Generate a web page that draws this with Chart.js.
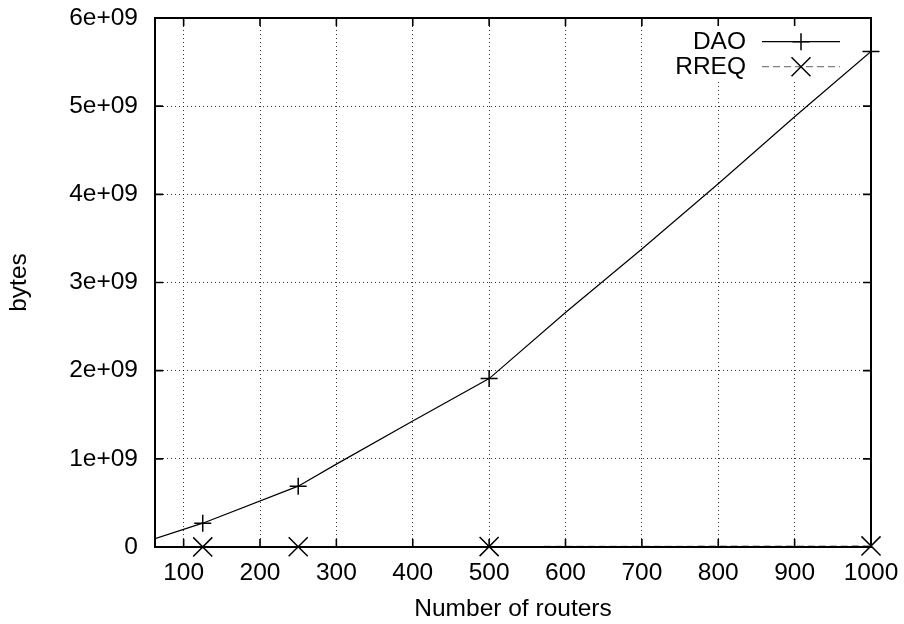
<!DOCTYPE html>
<html>
<head>
<meta charset="utf-8">
<script src="https://cdn.jsdelivr.net/npm/chart.js@4.4.1/dist/chart.umd.min.js"></script>
<style>
  html, body { margin: 0; padding: 0; background: #fff; }
  #chart { display: block; }
</style>
</head>
<body>
<canvas id="chart" width="904" height="624"></canvas>
<script>
// Axis ranges and ticks
const xMin = 62.5;
const xMax = 1000;
const xTicks = [100, 200, 300, 400, 500, 600, 700, 800, 900, 1000];
const yTicks = [0, 1e9, 2e9, 3e9, 4e9, 5e9, 6e9];
const yTickLabels = ['0', '1e+09', '2e+09', '3e+09', '4e+09', '5e+09', '6e+09'];

// measured points
const routers = [125, 250, 500, 1000];
const daoBytes = [0.27e9, 0.69e9, 1.91e9, 5.62e9];
const rreqBytes = [1e6, 2.5e6, 5e6, 1.2e7];

// DAO line (curve spans the whole x range)
const daoCurveX = [62.5, 125, 250, 300, 400, 500, 600, 700, 800, 900, 1000];
const daoCurveY = [0.095e9, 0.27e9, 0.69e9, 0.94e9, 1.43e9, 1.91e9, 2.66e9, 3.38e9, 4.12e9, 4.88e9, 5.62e9];

const legendNames = ['DAO', 'RREQ'];

const FONT = 'Liberation Sans, Arial, Helvetica, sans-serif';
const FSIZE = 24.5;

const toXY = (xs, ys) => xs.map((x, i) => ({ x, y: ys[i] }));

// no automatic room for overflowing tick labels, layout padding decides
function fixBox(s, key, val) {
  s[key] = val;
  s.paddingLeft = 0;
  s.paddingRight = 0;
  s.paddingTop = 0;
  s.paddingBottom = 0;
}

// white key box, hides grid under the legend
const keyBox = {
  id: 'keyBox',
  beforeDatasetsDraw(chart) {
    const { ctx, chartArea: a } = chart;
    ctx.save();
    ctx.fillStyle = '#fff';
    ctx.fillRect(665, a.top + 1, a.right - 665 - 1, 62);
    ctx.restore();
  },
};

// gnuplot style border with inward ticks on all four sides + key
const frame = {
  id: 'frame',
  afterDatasetsDraw(chart) {
    const { ctx, chartArea: a, scales } = chart;
    const tl = 8;
    ctx.save();
    ctx.strokeStyle = '#000';
    ctx.lineWidth = 1.6;
    ctx.beginPath();
    xTicks.forEach((v) => {
      const px = scales.x.getPixelForValue(v);
      ctx.moveTo(px, a.bottom); ctx.lineTo(px, a.bottom - tl);
      ctx.moveTo(px, a.top); ctx.lineTo(px, a.top + tl);
    });
    yTicks.forEach((v) => {
      const py = scales.y.getPixelForValue(v);
      ctx.moveTo(a.left, py); ctx.lineTo(a.left + tl, py);
      ctx.moveTo(a.right, py); ctx.lineTo(a.right - tl, py);
    });
    ctx.stroke();
    ctx.lineWidth = 2;
    ctx.strokeRect(a.left, a.top, a.right - a.left, a.bottom - a.top);

    // key
    const rows = [41.7, 66.7];
    const x0 = 762, x1 = 840, xm = 801;
    ctx.font = `${FSIZE}px ${FONT}`;
    ctx.fillStyle = '#000';
    ctx.textAlign = 'right';
    ctx.textBaseline = 'middle';
    legendNames.forEach((name, i) => {
      ctx.fillText(name, 746, rows[i] + 1);
    });
    // DAO sample
    ctx.lineWidth = 1.2;
    ctx.strokeStyle = '#000';
    ctx.setLineDash([]);
    ctx.beginPath();
    ctx.moveTo(x0, rows[0]); ctx.lineTo(x1, rows[0]);
    ctx.stroke();
    ctx.lineWidth = 1.5;
    ctx.beginPath();
    ctx.moveTo(xm - 8.5, rows[0]); ctx.lineTo(xm + 8.5, rows[0]);
    ctx.moveTo(xm, rows[0] - 8.5); ctx.lineTo(xm, rows[0] + 8.5);
    ctx.stroke();
    // RREQ sample
    ctx.lineWidth = 1.2;
    ctx.strokeStyle = '#808080';
    ctx.setLineDash([7, 4]);
    ctx.beginPath();
    ctx.moveTo(x0, rows[1]); ctx.lineTo(x1, rows[1]);
    ctx.stroke();
    ctx.setLineDash([]);
    ctx.strokeStyle = '#000';
    ctx.lineWidth = 1.5;
    ctx.beginPath();
    ctx.moveTo(xm - 9.5, rows[1] - 9.5); ctx.lineTo(xm + 9.5, rows[1] + 9.5);
    ctx.moveTo(xm - 9.5, rows[1] + 9.5); ctx.lineTo(xm + 9.5, rows[1] - 9.5);
    ctx.stroke();
    ctx.restore();
  },
};

const chart = new Chart(document.getElementById('chart'), {
  type: 'scatter',
  data: {
    datasets: [
      {
        label: 'DAO',
        data: toXY(daoCurveX, daoCurveY),
        showLine: true,
        borderColor: '#000',
        borderWidth: 1.2,
        pointRadius: 0,
        tension: 0,
      },
      {
        label: 'DAO points',
        data: toXY(routers, daoBytes),
        showLine: false,
        pointStyle: 'cross',
        pointRadius: 8.5,
        pointBorderColor: '#000',
        pointBorderWidth: 1.5,
        clip: false,
      },
      {
        label: 'RREQ',
        data: toXY(routers, rreqBytes),
        showLine: true,
        borderColor: '#808080',
        borderWidth: 1.2,
        borderDash: [7, 4],
        pointStyle: 'crossRot',
        pointRadius: 13.5,
        pointBorderColor: '#000',
        pointBackgroundColor: 'transparent',
        pointBorderWidth: 1.5,
        clip: false,
      },
    ],
  },
  options: {
    responsive: false,
    animation: false,
    devicePixelRatio: 1,
    layout: { padding: { left: 0, right: 33, top: 18, bottom: 0 } },
    plugins: {
      legend: { display: false },
      tooltip: { enabled: false },
    },
    scales: {
      x: {
        type: 'linear',
        min: xMin,
        max: xMax,
        afterBuildTicks: (s) => { s.ticks = xTicks.map((v) => ({ value: v })); },
        afterFit: (s) => fixBox(s, 'height', 77),
        ticks: {
          color: '#000',
          font: { family: FONT, size: FSIZE },
          padding: 12,
          maxRotation: 0,
          autoSkip: false,
          callback: (v) => String(v),
        },
        grid: { color: 'rgba(0,0,0,0.8)', lineWidth: 1, drawTicks: false },
        border: { display: false, dash: [1, 3] },
        title: {
          display: true,
          text: 'Number of routers',
          color: '#000',
          font: { family: FONT, size: FSIZE },
          padding: { top: 0, bottom: 0 },
        },
      },
      y: {
        type: 'linear',
        min: 0,
        max: 6e9,
        afterBuildTicks: (s) => { s.ticks = yTicks.map((v) => ({ value: v })); },
        afterFit: (s) => fixBox(s, 'width', 155),
        ticks: {
          color: '#000',
          font: { family: FONT, size: FSIZE },
          padding: 17,
          callback: (v) => yTickLabels[yTicks.indexOf(v)],
        },
        grid: { color: 'rgba(0,0,0,0.8)', lineWidth: 1, drawTicks: false },
        border: { display: false, dash: [1, 3] },
        title: {
          display: true,
          text: 'bytes',
          color: '#000',
          font: { family: FONT, size: FSIZE },
          padding: { top: 5, bottom: 0 },
        },
      },
    },
  },
  plugins: [keyBox, frame],
});
</script>
</body>
</html>
